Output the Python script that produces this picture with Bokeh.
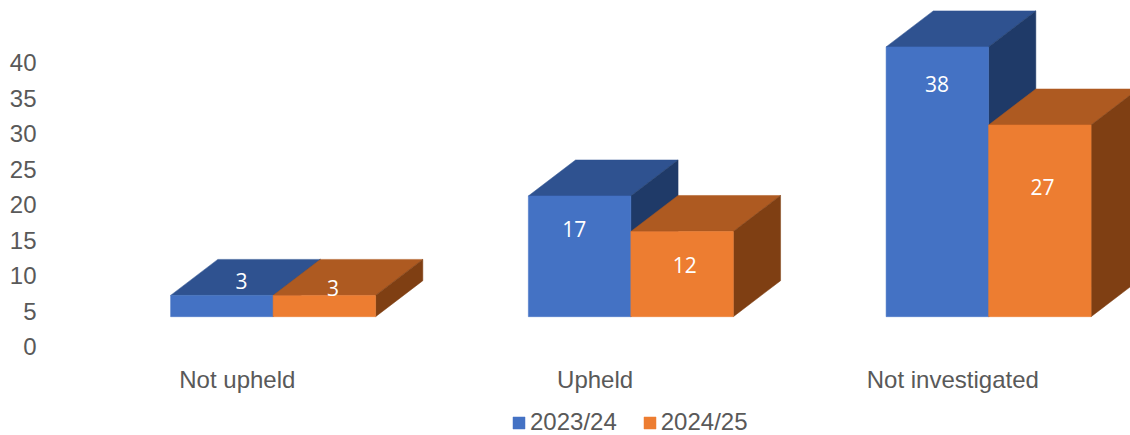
from bokeh.embed import file_html
from bokeh.models import FixedTicker, Legend, LegendItem, Range1d, ColumnDataSource
from bokeh.plotting import figure
from bokeh.resources import INLINE

# Complaint outcomes by year
categories = ["Not upheld", "Upheld", "Not investigated"]
series_names = ["2023/24", "2024/25"]
values_2023 = [3, 17, 38]
values_2024 = [3, 12, 27]
y_ticks = [0, 5, 10, 15, 20, 25, 30, 35, 40]

# Layout of the pseudo-3D columns, in axis units
FLOOR = 4.2          # front edge of the floor sits above the zero tick
BAR_WIDTH = 0.2865
DEPTH_X = 0.132
DEPTH_Y = 5.07
LABEL_SHIFT = -0.1   # category labels sit under the centre of the floor

FRONT = ["#4472C4", "#ED7D31"]
TOP = ["#2F5290", "#AE5A21"]
SIDE = ["#1F3A68", "#7F3F13"]
TEXT_GREY = "#595959"
AXIS_FONT = "Liberation Sans"
AXIS_SIZE = "24px"

# Hand-placed value labels: pixel offsets from each column's front top-left corner
label_dx = [[71, 46, 51], [60, 54, 54]]
label_dy = [[-14, 33, 37], [-7, 34, 62]]

PX_PER_UNIT_X = 357.75
PX_PER_UNIT_Y = 7.1
FRAME_LEFT = 40
FRAME_BOTTOM = 435
ZERO_PX = 346
FIRST_CENTRE_PX = 272.6

p = figure(
    width=1130, height=435, output_backend="svg", toolbar_location=None,
    x_range=Range1d((FRAME_LEFT - FIRST_CENTRE_PX) / PX_PER_UNIT_X,
                    (1130 - FIRST_CENTRE_PX) / PX_PER_UNIT_X),
    y_range=Range1d((ZERO_PX - FRAME_BOTTOM) / PX_PER_UNIT_Y, ZERO_PX / PX_PER_UNIT_Y),
    min_border_left=FRAME_LEFT, min_border_right=0, min_border_top=0,
    min_border_bottom=0,
)
p.outline_line_color = None
p.grid.visible = False

legend_items = []
for s, vals in enumerate([values_2023, values_2024]):
    lefts = [i + (s - 1) * BAR_WIDTH for i in range(len(vals))]
    rights = [x + BAR_WIDTH for x in lefts]
    tops = [FLOOR + v for v in vals]

    p.patches(
        xs=[[l, l + DEPTH_X, r + DEPTH_X, r] for l, r in zip(lefts, rights)],
        ys=[[t, t + DEPTH_Y, t + DEPTH_Y, t] for t in tops],
        fill_color=TOP[s], line_color=TOP[s], line_width=0.5,
    )
    p.patches(
        xs=[[r, r + DEPTH_X, r + DEPTH_X, r] for r in rights],
        ys=[[t, t + DEPTH_Y, FLOOR + DEPTH_Y, FLOOR] for t in tops],
        fill_color=SIDE[s], line_color=SIDE[s], line_width=0.5,
    )
    front = p.quad(left=lefts, right=rights, bottom=FLOOR, top=tops,
                   fill_color=FRONT[s], line_color=FRONT[s], line_width=0.5)
    legend_items.append(LegendItem(label=series_names[s], renderers=[front]))

for s, vals in enumerate([values_2023, values_2024]):
    src = ColumnDataSource(dict(
        x=[i + (s - 1) * BAR_WIDTH for i in range(len(vals))],
        y=[FLOOR + v for v in vals],
        text=[str(v) for v in vals],
        dx=label_dx[s],
        dy=label_dy[s],
    ))
    p.text(x="x", y="y", text="text", x_offset="dx", y_offset="dy", source=src,
           text_color="white", text_font_size="21px", text_font={"value": "Open Sans"},
           text_align="center", text_baseline="middle")

# Value axis
p.yaxis.ticker = FixedTicker(ticks=y_ticks)
p.yaxis.axis_line_color = None
p.yaxis.major_tick_line_color = None
p.yaxis.minor_tick_line_color = None
p.yaxis.major_tick_out = 0
p.yaxis.major_tick_in = 0
p.yaxis.major_label_standoff = 4
p.yaxis.major_label_text_font = AXIS_FONT
p.yaxis.major_label_text_font_size = AXIS_SIZE
p.yaxis.major_label_text_color = TEXT_GREY

# Category axis, pulled up into the frame so the legend can sit beneath it
cat_ticks = [round(i + LABEL_SHIFT, 3) for i in range(len(categories))]
p.xaxis.ticker = FixedTicker(ticks=cat_ticks)
p.xaxis.major_label_overrides = dict(zip(cat_ticks, categories))
p.xaxis.axis_line_color = None
p.xaxis.major_tick_line_color = None
p.xaxis.minor_tick_line_color = None
p.xaxis.major_tick_out = 0
p.xaxis.major_tick_in = 0
p.xaxis.major_label_standoff = -70
p.xaxis.major_label_text_font = AXIS_FONT
p.xaxis.major_label_text_font_size = AXIS_SIZE
p.xaxis.major_label_text_color = TEXT_GREY

legend = Legend(
    items=legend_items, orientation="horizontal",
    location=(471, -1), padding=0, margin=0, spacing=25,
    glyph_width=15, glyph_height=15, label_standoff=4,
    background_fill_alpha=0, border_line_color=None,
    label_text_font=AXIS_FONT, label_text_font_size=AXIS_SIZE,
    label_text_color=TEXT_GREY,
)
p.add_layout(legend)

open("out.html", "w").write(file_html(p, INLINE))
